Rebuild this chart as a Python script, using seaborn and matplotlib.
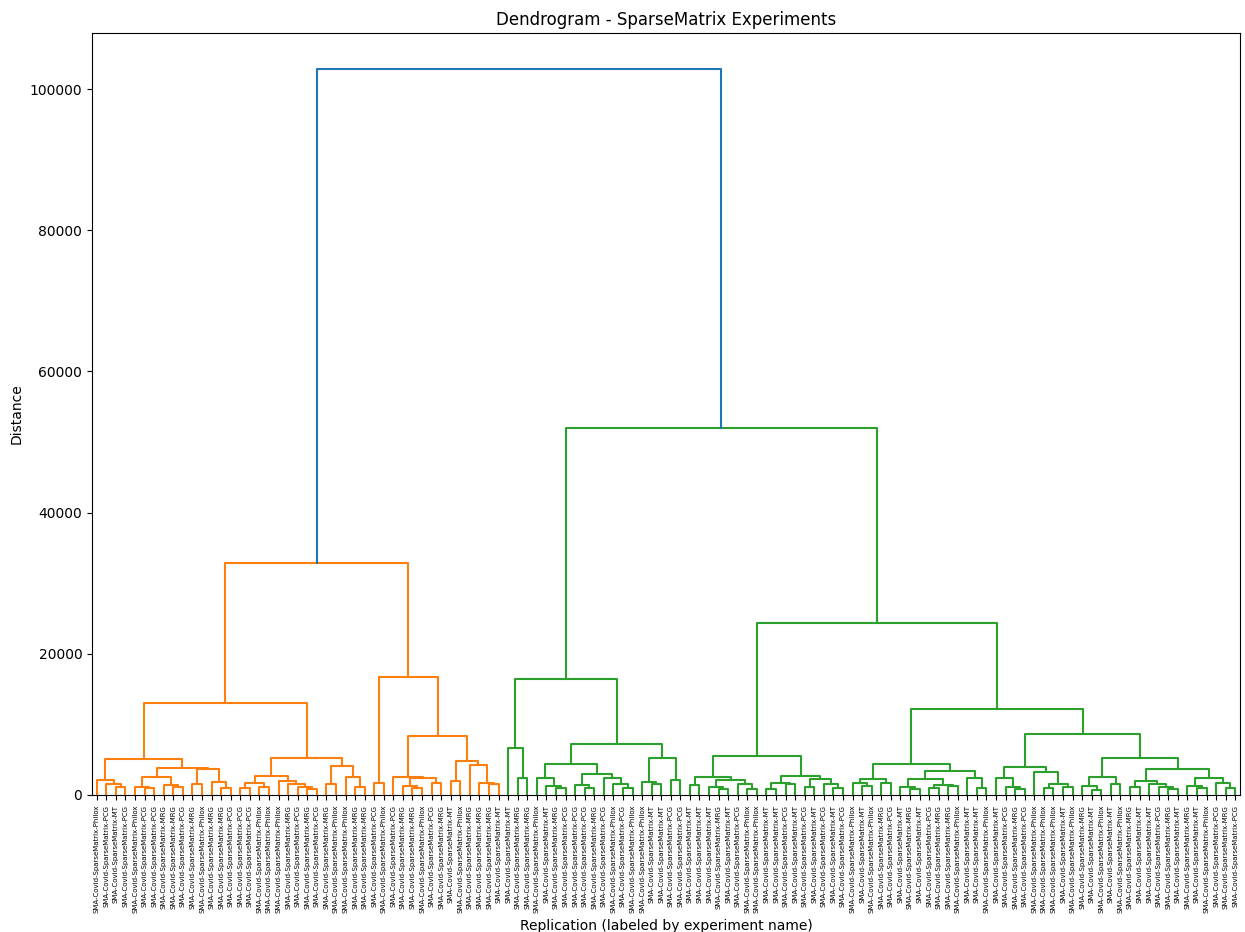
import pandas as pd
import matplotlib
matplotlib.use("Agg")
import matplotlib.pyplot as plt
import seaborn as sns

# leaf labels in dendrogram order (suffix of SMA-Covid-SparseMatrix-*)
leaf_gens = [
    "Philox", "PCG", "MT", "PCG", "Philox", "PCG", "PCG", "MRG", "MRG", "PCG",
    "MRG", "Philox", "MRG", "MRG", "PCG", "PCG", "PCG", "Philox", "Philox", "Philox",
    "MRG", "PCG", "MRG", "PCG", "MRG", "Philox", "Philox", "MRG", "MRG", "PCG",
    "Philox", "PCG", "MRG", "MRG", "Philox", "PCG", "MRG", "MT", "Philox", "MRG",
    "MRG", "MRG", "MT", "MT", "MRG", "MRG", "Philox", "MT", "MRG", "PCG",
    "PCG", "PCG", "MRG", "PCG", "Philox", "PCG", "Philox", "Philox", "MT", "MT",
    "PCG", "PCG", "MT", "MT", "MT", "MRG", "MT", "PCG", "Philox", "Philox",
    "MT", "MT", "PCG", "MT", "PCG", "MT", "PCG", "MT", "PCG", "Philox",
    "MT", "Philox", "MRG", "PCG", "MT", "MRG", "MT", "PCG", "MRG", "MRG",
    "Philox", "MT", "MT", "Philox", "MT", "PCG", "MRG", "PCG", "Philox", "Philox",
    "Philox", "MT", "Philox", "MRG", "MT", "Philox", "MT", "Philox", "MRG", "MT",
    "MT", "PCG", "MRG", "MT", "MRG", "MT", "Philox", "PCG", "MRG", "PCG",
]
labels = ["SMA-Covid-SparseMatrix-" + g for g in leaf_gens]

# subtrees: (left, right, merge distance), ints are leaf positions
orange_w = (0, (1, (2, 3, 1100), 1500), 2100)
orange_v = (((4, (5, 6, 1000), 1200), (7, (8, 9, 1100), 1350), 2500),
            ((10, 11, 1550), (12, (13, 14, 1050), 1800), 3680), 3860)
orange_a = (((15, 16, 1050), (17, 18, 1100), 1650),
            (19, (20, (21, (22, 23, 900), 1100), 1500), 2000), 2730)
orange_b = ((24, 25, 1500), (26, (27, 28, 1100), 2600), 4100)
orange_c = ((31, ((32, (33, 34, 1000), 1250), (35, 36, 1740), 2360), 2600),
            ((37, 38, 2000), (39, (40, (41, 42, 1500), 1740), 4240), 4850), 8390)
orange = (((orange_w, orange_v, 5090), (orange_a, orange_b, 5280), 13100),
          ((29, 30, 1740), orange_c, 16700), 32800)

green_a = (43, (44, 45, 2450), 6700)
green_b = (((46, (47, (48, 49, 1000), 1250), 2360),
            ((50, (51, 52, 1000), 1400), (53, (54, (55, 56, 950), 1500), 2450), 2970), 4340),
           ((57, (58, 59, 1550), 1790), (60, 61, 2120), 5190), 7170)
green_c = (((62, 63, 1400), ((64, (65, 66, 900), 1200), (67, (68, 69, 900), 1500), 2120), 2500),
           (((70, 71, 800), (72, 73, 1500), 1650),
            ((74, 75, 1100), (76, (77, 78, 1000), 1500), 2200), 2730), 5560)
green_d = (((79, (80, 81, 1300), 1650), (82, 83, 1650), 2260),
           (((84, (85, 86, 900), 1200), ((87, 88, 1000), (89, 90, 1300), 1400), 2200),
            (91, (92, 93, 1000), 2450), 3400), 4380)
green_e = ((94, (95, (96, 97, 900), 1100), 2450),
           (98, ((99, 100, 1000), (101, 102, 1200), 1500), 3300), 4000)
green_f = (((103, (104, 105, 700), 1300), (106, 107, 1500), 2500),
           (((108, 109, 1100), (110, (111, (112, 113, 900), 1200), 1600), 1980),
            ((114, (115, 116, 1000), 1300), (117, (118, 119, 1000), 1700), 2360), 3680), 5280)
green = ((green_a, green_b, 16400),
         (green_c, (green_d, (green_e, green_f, 8580), 12200), 24300), 52000)

root = (orange, green, 102800)
n_orange = 43

# walk the tree like scipy's dendrogram: leaves at 5, 15, 25, ...
rows = []
threshold = 0.7 * root[2]


def walk(node):
    if isinstance(node, int):
        return 5 + 10 * node, 0.0, [node]
    left, right, h = node
    xl, hl, ll = walk(left)
    xr, hr, lr = walk(right)
    leaves = ll + lr
    if h >= threshold:
        grp = "top"
    elif leaves[0] < n_orange:
        grp = "c1"
    else:
        grp = "c2"
    link = len(rows)
    for x, y in zip([xl, xl, xr, xr], [hl, h, h, hr]):
        rows.append({"link": link, "x": x, "y": y, "grp": grp})
    return (xl + xr) / 2, h, leaves


walk(root)
df = pd.DataFrame(rows)

fig = plt.figure(figsize=(12.45, 9.32), dpi=100)
ax = fig.add_axes([92 / 1245, 1 - 795 / 932, (1240 - 92) / 1245, (795 - 33) / 932])
sns.lineplot(data=df, x="x", y="y", hue="grp", units="link", estimator=None, sort=False,
             palette={"top": "#1f77b4", "c1": "#ff7f0e", "c2": "#2ca02c"},
             linewidth=1.5, legend=False, ax=ax)

n = len(labels)
ax.set_xlim(0, 10 * n)
ax.set_ylim(0, root[2] * 1.05)
ax.set_xticks([5 + 10 * i for i in range(n)])
ax.set_xticklabels(labels, rotation=90, fontsize=5)
ax.set_title("Dendrogram - SparseMatrix Experiments")
ax.set_xlabel("Replication (labeled by experiment name)")
ax.set_ylabel("Distance")

plt.savefig("out.png", dpi=100)
